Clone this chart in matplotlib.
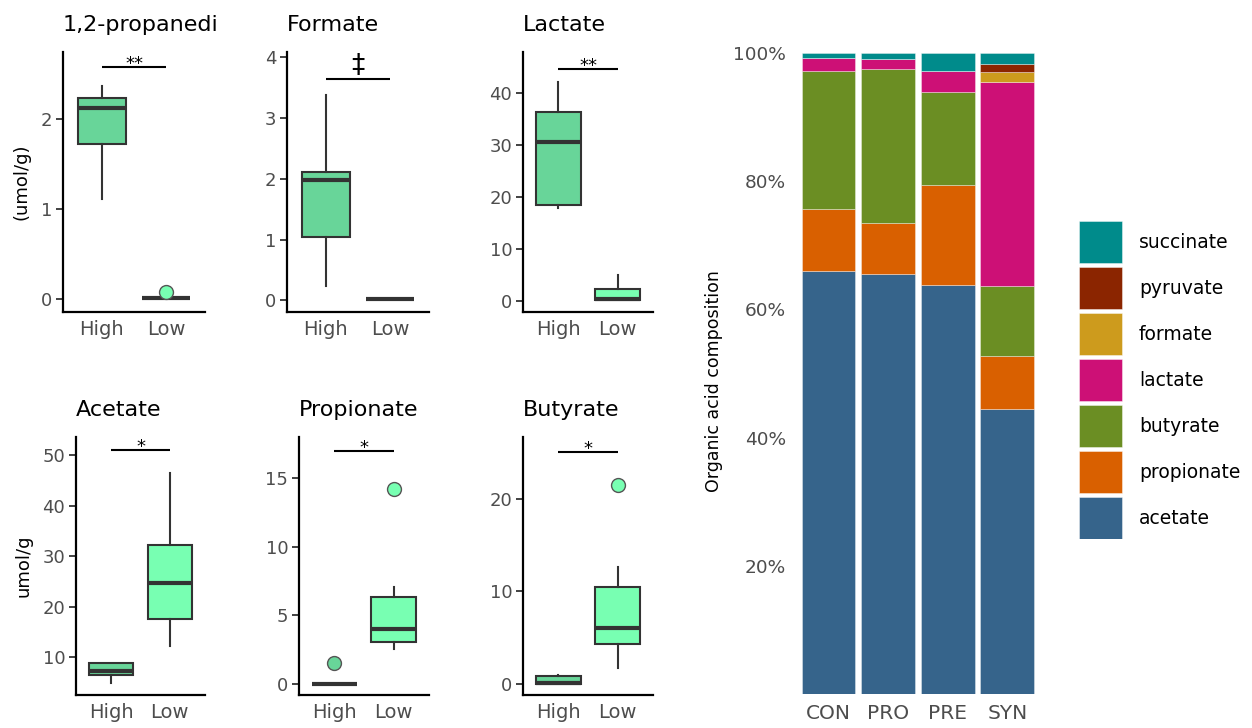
import matplotlib
matplotlib.use("Agg")
import matplotlib.pyplot as plt
from matplotlib.patches import Rectangle
import numpy as np

plt.rcParams['font.family'] = ['DejaVu Sans']

# ---------------- data ----------------
groups = ["High", "Low"]
panel_titles = ["1,2-propanedi", "Formate", "Lactate", "Acetate", "Propionate", "Butyrate"]
sig_labels = ["**", "\u2021", "**", "*", "*", "*"]
sig_heights = [2.57, 3.65, 44.8, 51.0, 16.95, 25.0]

# box stats: [whislo, q1, med, q3, whishi]
propanediol_high = [1.11, 1.725, 2.12, 2.225, 2.36]
propanediol_low = [0.01, 0.01, 0.01, 0.01, 0.01]
propanediol_fliers = [[], [0.08]]

formate_high = [0.24, 1.04, 1.985, 2.11, 3.39]
formate_low = [0.03, 0.03, 0.03, 0.03, 0.03]
formate_fliers = [[], []]

lactate_high = [17.9, 18.4, 30.6, 36.5, 42.3]
lactate_low = [0.2, 0.2, 0.4, 2.25, 5.0]
lactate_fliers = [[], []]

acetate_high = [4.8, 6.5, 7.3, 8.75, 8.75]
acetate_low = [12.2, 17.5, 24.6, 32.3, 46.4]
acetate_fliers = [[], []]

propionate_high = [0.0, 0.0, 0.0, 0.0, 0.0]
propionate_low = [2.52, 3.03, 4.02, 6.35, 7.05]
propionate_fliers = [[1.5], [14.2]]

butyrate_high = [0.0, 0.0, 0.05, 0.86, 1.0]
butyrate_low = [1.7, 4.28, 6.0, 10.5, 12.6]
butyrate_fliers = [[], [21.5]]

y_ticks = [[0, 1, 2], [0, 1, 2, 3, 4], [0, 10, 20, 30, 40],
           [10, 20, 30, 40, 50], [0, 5, 10, 15], [0, 10, 20]]
y_limits = [(-0.14, 2.74), (-0.19, 4.09), (-2.2, 48.0),
            (2.5, 53.6), (-0.8, 18.0), (-1.2, 26.65)]

treatments = ["CON", "PRO", "PRE", "SYN"]
acids = ["acetate", "propionate", "butyrate", "lactate", "formate", "pyruvate", "succinate"]
acetate_pct = [66.0, 65.5, 63.75, 44.5]
propionate_pct = [9.6, 8.0, 15.6, 8.2]
butyrate_pct = [21.6, 24.0, 14.5, 10.9]
lactate_pct = [2.0, 1.6, 3.3, 31.8]
formate_pct = [0.0, 0.0, 0.0, 1.7]
pyruvate_pct = [0.0, 0.0, 0.0, 1.2]
succinate_pct = [0.8, 0.9, 2.85, 1.7]
acid_colors = ["#36648B", "#D96000", "#6B8E23", "#CD1076", "#CD9B1D", "#8B2500", "#008B8B"]

# ---------------- figure ----------------
W, H = 1252, 728
fig = plt.figure(figsize=(W / 100, H / 100), dpi=100)


def add_px(x0, y0, x1, y1):
    return fig.add_axes([x0 / W, 1 - y1 / H, (x1 - x0) / W, (y1 - y0) / H])


panel_boxes = [(63, 52, 205, 312), (287, 52, 429, 312), (523, 52, 653, 312),
               (76, 437, 205, 695), (299, 437, 429, 695), (523, 437, 653, 695)]
panel_data = [(propanediol_high, propanediol_low, propanediol_fliers),
              (formate_high, formate_low, formate_fliers),
              (lactate_high, lactate_low, lactate_fliers),
              (acetate_high, acetate_low, acetate_fliers),
              (propionate_high, propionate_low, propionate_fliers),
              (butyrate_high, butyrate_low, butyrate_fliers)]
fills = ["#68D599", "#78FFB2"]
dark = "#333333"

for i, (box, (hi, lo, fl)) in enumerate(zip(panel_boxes, panel_data)):
    ax = add_px(*box)
    stats = []
    for g, s, f in zip(groups, [hi, lo], fl):
        stats.append(dict(label=g, whislo=s[0], q1=s[1], med=s[2], q3=s[3],
                          whishi=s[4], fliers=np.array(f)))
    res = ax.bxp(stats, positions=[1, 2], widths=0.75, patch_artist=True,
                 showcaps=False, showfliers=True,
                 boxprops=dict(edgecolor=dark, linewidth=1.5),
                 medianprops=dict(color=dark, linewidth=3.0, solid_capstyle='butt'),
                 whiskerprops=dict(color=dark, linewidth=1.5),
                 flierprops=dict(marker='o', markersize=10, markeredgecolor='#555555',
                                 markeredgewidth=1.0))
    for patch, c in zip(res['boxes'], fills):
        patch.set_facecolor(c)
    for fline, c in zip(res['fliers'], fills):
        fline.set_markerfacecolor(c)
        fline.set_zorder(4)
    ax.set_xlim(0.4, 2.6)
    ax.set_ylim(*y_limits[i])
    ax.set_yticks(y_ticks[i])
    ax.set_xticks([1, 2])
    ax.set_xticklabels(groups)
    for sp in ['top', 'right']:
        ax.spines[sp].set_visible(False)
    for sp in ['left', 'bottom']:
        ax.spines[sp].set_color('black')
        ax.spines[sp].set_linewidth(1.6)
    ax.tick_params(axis='y', length=4.8, width=1.3, color=dark, labelsize=13,
                   labelcolor='#4D4D4D', pad=3)
    ax.tick_params(axis='x', length=0, labelsize=14, labelcolor='#4D4D4D', pad=6)
    ax.set_title(panel_titles[i], loc='left', fontsize=16, pad=15, color='black')
    # significance bar
    ax.plot([1, 2], [sig_heights[i], sig_heights[i]], color='black', lw=1.5,
            solid_capstyle='butt', clip_on=False)
    if sig_labels[i] == "\u2021":
        ax.annotate(sig_labels[i], (1.5, sig_heights[i]), xytext=(0, 4),
                    textcoords='offset points', ha='center', va='baseline',
                    fontsize=19, color='black', annotation_clip=False)
    else:
        ax.annotate(sig_labels[i], (1.5, sig_heights[i]), xytext=(0, -1.5),
                    textcoords='offset points', ha='center', va='baseline',
                    fontsize=13, color='black', annotation_clip=False)

fig.text(22 / W, 1 - 182 / H, "(umol/g)", rotation=90, ha='center', va='center',
         fontsize=13, color='black')
fig.text(23 / W, 1 - 566 / H, "umol/g", rotation=90, ha='center', va='center',
         fontsize=13, color='black')

# ---------------- stacked bar ----------------
axb = add_px(793, 53, 1043, 694)
series = [acetate_pct, propionate_pct, butyrate_pct, lactate_pct,
          formate_pct, pyruvate_pct, succinate_pct]
x = np.arange(len(treatments))
bottom = np.zeros(len(treatments))
for name, vals, col in zip(acids, series, acid_colors):
    v = np.array(vals) / 100.0
    axb.bar(x, v, bottom=bottom, width=0.9, color=col,
            edgecolor=(1, 1, 1, 0.5), linewidth=0.5)
    bottom = bottom + v
axb.set_xlim(-0.6, 3.6)
axb.set_ylim(0, 1)
axb.set_yticks([0.2, 0.4, 0.6, 0.8, 1.0])
axb.set_yticklabels(["20%", "40%", "60%", "80%", "100%"])
axb.set_xticks(x)
axb.set_xticklabels(treatments)
for sp in axb.spines.values():
    sp.set_visible(False)
axb.tick_params(axis='y', length=0, labelsize=13.3, labelcolor='#4D4D4D', pad=5)
axb.tick_params(axis='x', length=0, labelsize=14.5, labelcolor='#4D4D4D', pad=7)
fig.text(714 / W, 1 - 381 / H, "Organic acid composition", rotation=90,
         ha='center', va='center', fontsize=12.5, color='black')

# ---------------- legend (manual, pixel layout) ----------------
axl = add_px(1079, 221, 1252, 539)
axl.set_xlim(0, 173)
axl.set_ylim(318, 0)
axl.axis('off')
for k, (name, col) in enumerate(zip(acids[::-1], acid_colors[::-1])):
    y0 = k * 46
    axl.add_patch(Rectangle((0, y0), 43, 42, facecolor=col,
                            edgecolor=(1, 1, 1, 0.6), linewidth=0.5))
    axl.text(60, y0 + 21, name, ha='left', va='center', fontsize=13.5,
             color='black')

fig.savefig("out.png", dpi=100)
